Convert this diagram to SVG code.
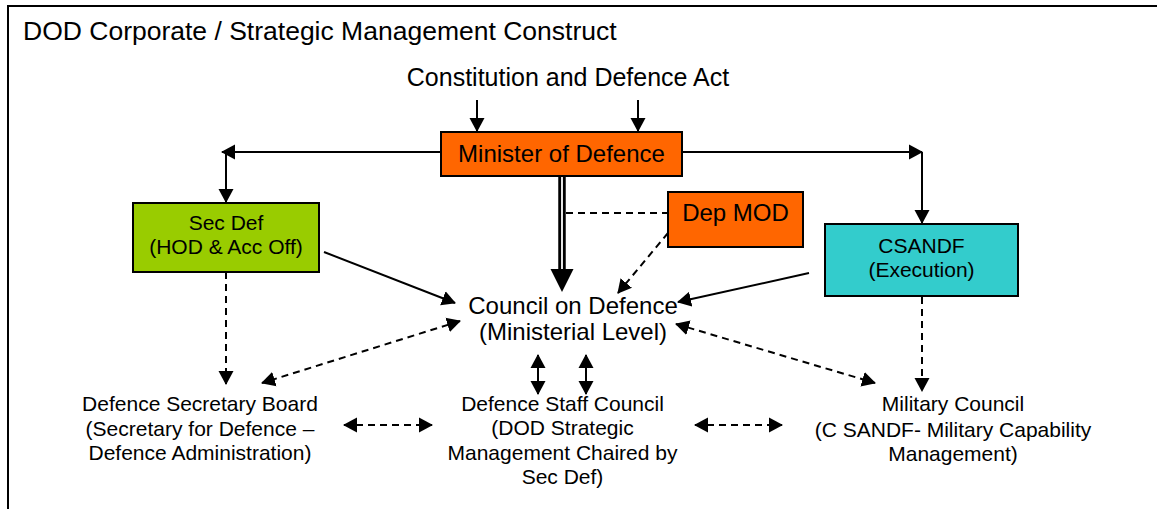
<svg xmlns="http://www.w3.org/2000/svg" width="1157" height="509" viewBox="0 0 1157 509">
<style>
text{font-family:"Liberation Sans",Arial,sans-serif;fill:#000}
.c{text-anchor:middle}
.box{stroke:#000;stroke-width:2}
.ln{fill:none;stroke:#000;stroke-width:2}
.ds{fill:none;stroke:#000;stroke-width:2;stroke-dasharray:7 5}
.a1{marker-end:url(#ah)}
.a2{marker-start:url(#ah);marker-end:url(#ah)}
</style>
<defs>
<marker id="ah" markerUnits="userSpaceOnUse" markerWidth="15" markerHeight="16" refX="13" refY="8" orient="auto-start-reverse" viewBox="0 0 15 16">
<path d="M0,0.5 L14,8 L0,15.5 z" fill="#000"/>
</marker>
</defs>
<rect x="8" y="6" width="1200" height="600" fill="#fff" stroke="#000" stroke-width="2"/>
<text id="title" x="23" y="39.5" font-size="26.5">DOD Corporate / Strategic Management Construct</text>
<g id="constitution"><text class="c" x="568" y="86" font-size="25">Constitution and Defence Act</text></g>

<g id="connectors">
<line class="ln a1" x1="477" y1="100" x2="477" y2="131"/>
<line class="ln a1" x1="638" y1="100" x2="638" y2="131"/>
<line class="ln a1" x1="441" y1="152" x2="222" y2="152"/>
<line class="ln a1" x1="226" y1="152" x2="226" y2="202"/>
<line class="ln a1" x1="682" y1="152" x2="922" y2="152"/>
<line class="ln a1" x1="922" y1="152" x2="922" y2="223"/>
<line x1="562" y1="177" x2="562" y2="272" stroke="#000" stroke-width="7.5"/>
<line x1="562" y1="177" x2="562" y2="271" stroke="#fff" stroke-width="1.8"/>
<polygon points="550.5,269 573.5,269 562,292" fill="#000"/>
<line class="ds" x1="566" y1="213" x2="668" y2="213"/>
<line class="ds a1" x1="668" y1="233" x2="618" y2="293"/>
<line class="ln a1" x1="324" y1="252" x2="455" y2="303"/>
<line class="ln a1" x1="809" y1="273" x2="678" y2="302"/>
<line class="ds a2" x1="460" y1="321" x2="262" y2="383"/>
<line class="ds a1" x1="226" y1="272" x2="226" y2="384"/>
<line class="ds a2" x1="344" y1="425" x2="432" y2="425"/>
<line class="ln a2" x1="538" y1="355" x2="538" y2="394"/>
<line class="ln a2" x1="586" y1="355" x2="586" y2="394"/>
<line class="ds a2" x1="695" y1="425" x2="782" y2="425"/>
<line class="ds a2" x1="676" y1="324" x2="875" y2="383"/>
<line class="ds a1" x1="922" y1="297" x2="922" y2="391"/>
</g>

<g id="minister">
<rect class="box" x="441" y="132" width="241" height="44" fill="#FF6600"/>
<text class="c" x="561.5" y="161.5" font-size="24">Minister of Defence</text>
</g>
<g id="secdef">
<rect class="box" x="133" y="203" width="186" height="69" fill="#99CC00"/>
<text class="c" x="226" y="230" font-size="21">Sec Def</text>
<text class="c" x="226" y="253.5" font-size="21">(HOD &amp; Acc Off)</text>
</g>
<g id="depmod">
<rect class="box" x="668" y="192" width="135" height="55" fill="#FF6600"/>
<text class="c" x="735.5" y="220.5" font-size="24">Dep MOD</text>
</g>
<g id="csandf">
<rect class="box" x="825" y="224" width="193" height="72" fill="#33CCCC"/>
<text class="c" x="921.5" y="252.5" font-size="21">CSANDF</text>
<text class="c" x="921.5" y="276.5" font-size="21">(Execution)</text>
</g>
<g id="council">
<text class="c" x="573" y="313.5" font-size="24">Council on Defence</text>
<text class="c" x="573" y="339.5" font-size="24">(Ministerial Level)</text>
</g>
<g id="dsb">
<text class="c" x="200" y="410.5" font-size="21">Defence Secretary Board</text>
<text class="c" x="200" y="435.5" font-size="21">(Secretary for Defence –</text>
<text class="c" x="200" y="459.5" font-size="21">Defence Administration)</text>
</g>
<g id="dsc">
<text class="c" x="562.5" y="410.5" font-size="21">Defence Staff Council</text>
<text class="c" x="562.5" y="435" font-size="21">(DOD Strategic</text>
<text class="c" x="562.5" y="460" font-size="21">Management Chaired by</text>
<text class="c" x="562.5" y="484" font-size="21">Sec Def)</text>
</g>
<g id="milcouncil">
<text class="c" x="953" y="410.5" font-size="21">Military Council</text>
<text class="c" x="953" y="436.5" font-size="21">(C SANDF- Military Capability</text>
<text class="c" x="953" y="460.5" font-size="21">Management)</text>
</g>
</svg>
